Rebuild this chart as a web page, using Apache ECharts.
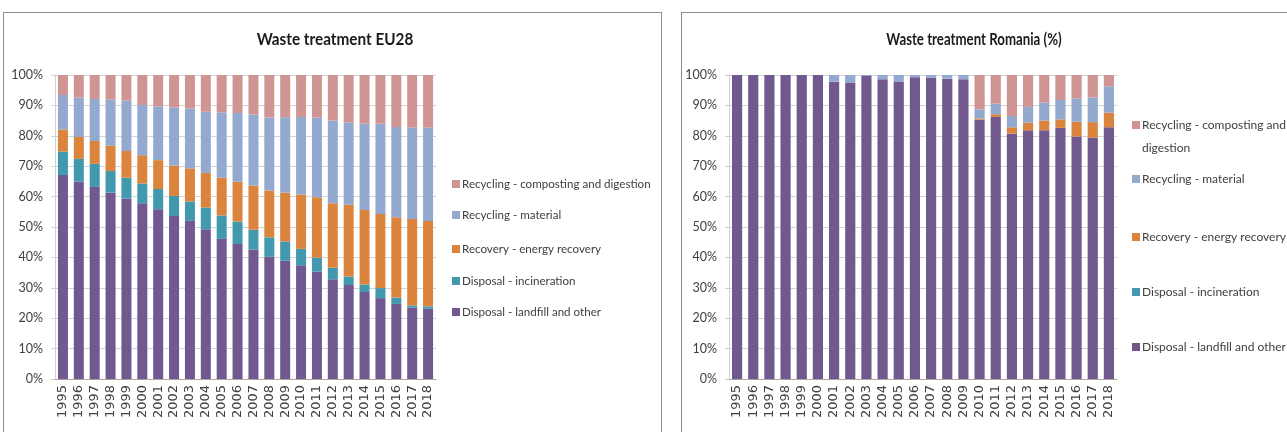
<!DOCTYPE html>
<html>
<head>
<meta charset="utf-8">
<script src="https://cdn.jsdelivr.net/npm/echarts@6/dist/echarts.min.js"></script>
<style>
  html, body { margin: 0; padding: 0; width: 1287px; height: 432px; overflow: hidden; background: #fff; }
  .frame { position: absolute; top: 12px; height: 440px; border: 1px solid #8e8e8e; box-sizing: border-box; background: #fff; }
  #eu { left: 3px; width: 659px; }
  #ro { left: 681px; width: 640px; }
</style>
</head>
<body>
<div id="eu" class="frame"></div>
<div id="ro" class="frame"></div>
<script>
// Categories and tick labels
const years = ['1995','1996','1997','1998','1999','2000','2001','2002','2003','2004','2005','2006',
               '2007','2008','2009','2010','2011','2012','2013','2014','2015','2016','2017','2018'];
const yTicks = [0, 10, 20, 30, 40, 50, 60, 70, 80, 90, 100];

// Series names (stack order bottom to top)
const names = ['Disposal - landfill and other', 'Disposal - incineration', 'Recovery - energy recovery',
               'Recycling - material', 'Recycling - composting and digestion'];

// EU28 shares, %
const euLandfill    = [67.1,64.9,63.2,61.3,59.4,57.8,55.8,53.6,52.0,49.3,46.1,44.4,42.6,40.2,38.9,37.4,35.3,32.8,30.9,28.6,26.6,24.7,23.5,23.1];
const euIncineration= [7.7,7.5,7.6,7.1,6.8,6.5,6.7,6.6,6.4,7.1,7.7,7.4,6.5,6.4,6.3,5.4,4.6,3.8,2.8,2.5,3.3,2.1,0.7,0.8];
const euEnergy      = [7.3,7.2,7.5,8.4,8.8,9.3,9.5,10.0,10.9,11.4,12.4,13.1,14.5,15.4,16.1,17.9,19.9,21.2,23.6,24.5,24.4,26.4,28.4,28.1];
const euMaterial    = [11.3,13.0,13.8,15.1,16.6,16.5,17.7,19.1,19.7,20.1,21.5,22.6,23.4,24.0,24.8,25.5,26.2,27.2,27.1,28.4,29.7,29.7,30.1,30.7];
const euComposting  = [6.6,7.4,7.9,8.1,8.4,9.9,10.3,10.7,11.0,12.1,12.3,12.5,13.0,14.0,13.9,13.8,14.0,15.0,15.6,16.0,16.0,17.1,17.3,17.3];

// Romania shares, %
const roLandfill    = [100,100,100,100,100,100,97.8,97.5,99.8,98.6,97.7,99.3,99.2,98.8,98.6,85.3,86.2,80.7,81.8,81.8,82.6,79.8,79.4,82.8];
const roIncineration= [0,0,0,0,0,0,0,0,0,0,0,0,0,0,0,0,0,0,0,0,0,0,0,0];
const roEnergy      = [0,0,0,0,0,0,0,0,0,0,0,0,0,0,0,0.4,0.9,2.1,2.5,3.2,2.8,4.8,5.1,4.8];
const roMaterial    = [0,0,0,0,0,0,2.2,2.5,0.2,1.4,2.3,0.7,0.8,1.2,1.4,3.0,3.5,3.7,5.2,5.9,6.4,7.7,8.1,8.7];
const roComposting  = [0,0,0,0,0,0,0,0,0,0,0,0,0,0,0,11.3,9.4,13.5,10.5,9.1,8.2,7.7,7.4,3.7];

const colors = ['#71588f', '#4198af', '#db843d', '#93a9cf', '#d09493'];
const face = "Lato, 'Liberation Sans', sans-serif";

function buildOption(cfg) {
  const series = cfg.values.map((vals, i) => ({
    name: names[i],
    type: 'bar',
    stack: 'total',
    barWidth: '63%',
    itemStyle: { color: colors[i] },
    emphasis: { disabled: true },
    data: vals
  }));
  // one legend block per entry, listed top to bottom
  const legends = names.slice().reverse().map((n, k) => ({
    data: [n],
    left: cfg.legendLeft,
    top: cfg.legendCenters[k] - cfg.legendLine / 2,
    padding: 0,
    icon: 'rect',
    itemWidth: 8,
    itemHeight: 8,
    selectedMode: false,
    formatter: cfg.legendFormatter || (s => s),
    textStyle: { fontFamily: face, fontSize: cfg.legendFont, color: '#404040', lineHeight: cfg.legendLine, padding: [0, 0, 0, -3] }
  }));
  return {
    animation: false,
    color: colors,
    graphic: [{
      type: 'text', x: cfg.titleX, y: 27, scaleX: cfg.titleScale,
      style: { text: cfg.title, align: 'center', verticalAlign: 'middle',
               font: "bold 17px " + face, fill: '#1a1a1a' }
    }].concat(cfg.extraText || []),
    legend: legends,
    grid: { left: cfg.gridLeft, top: 62, width: cfg.gridWidth, height: 304 },
    xAxis: {
      type: 'category',
      data: years,
      axisLine: { lineStyle: { color: '#a6a6a6' } },
      axisTick: { show: false },
      axisLabel: { rotate: 90, interval: 0, margin: 6, fontFamily: 'DejaVu Sans', fontSize: 13, color: '#404040' }
    },
    yAxis: {
      type: 'value',
      min: yTicks[0],
      max: yTicks[yTicks.length - 1],
      interval: 10,
      axisLine: { show: true, lineStyle: { color: '#d0d0d0' } },
      axisTick: { show: true, length: 4, lineStyle: { color: '#d0d0d0' } },
      splitLine: { lineStyle: { color: '#d4d4d4' } },
      axisLabel: { formatter: '{value}%', margin: 12, fontFamily: face, fontSize: 12.5, color: '#404040' }
    },
    series: series
  };
}

const euChart = echarts.init(document.getElementById('eu'));
euChart.setOption(buildOption({
  title: 'Waste treatment EU28',
  titleX: 331,
  titleScale: 0.9,
  gridLeft: 51,
  gridWidth: 381,
  values: [euLandfill, euIncineration, euEnergy, euMaterial, euComposting],
  legendLeft: 448,
  legendCenters: [171, 202, 236, 268, 299],
  legendLine: 16,
  legendFont: 11.6
}));

const roChart = echarts.init(document.getElementById('ro'));
roChart.setOption(buildOption({
  title: 'Waste treatment Romania (%)',
  titleX: 292,
  titleScale: 0.78,
  gridLeft: 47,
  gridWidth: 388,
  values: [roLandfill, roIncineration, roEnergy, roMaterial, roComposting],
  legendLeft: 450,
  legendCenters: [112, 166, 224, 279, 334],
  legendLine: 18,
  legendFont: 12,
  legendFormatter: s => s === names[4] ? 'Recycling - composting and' : s,
  extraText: [{
    type: 'text', x: 460, y: 135,
    style: { text: 'digestion', verticalAlign: 'middle', font: "12px " + face, fill: '#404040' }
  }]
}));
</script>
</body>
</html>
